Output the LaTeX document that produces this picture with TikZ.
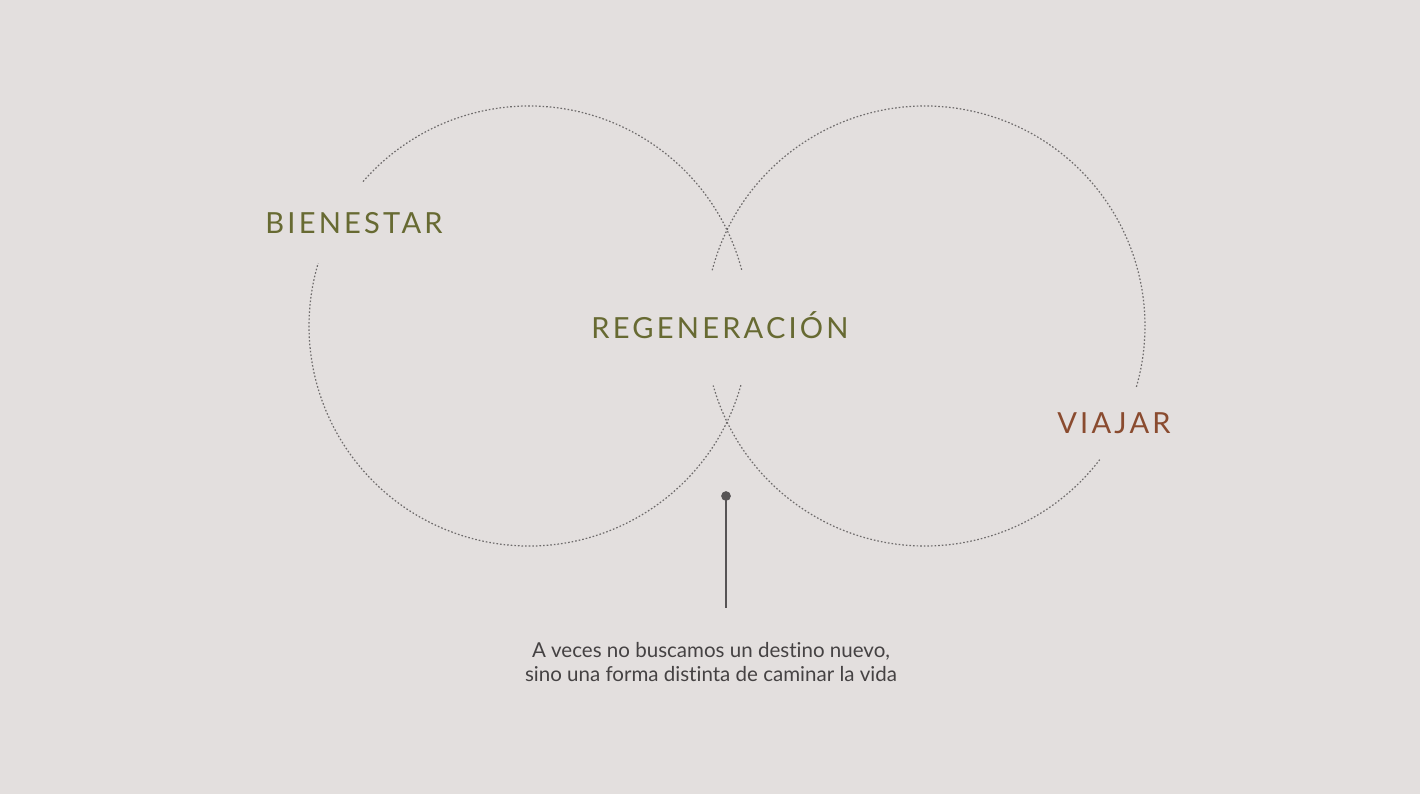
\documentclass[tikz,border=0pt]{standalone}
\usepackage{fontspec}
\setmainfont{Lato}[Ligatures=NoCommon]
\newfontfamily\tagfont[LetterSpace=11]{Lato}
\definecolor{paper}{HTML}{E3DFDE}
\definecolor{olive}{HTML}{676A32}
\definecolor{rust}{HTML}{8A4B2F}
\definecolor{ink}{HTML}{454243}
\definecolor{pinc}{HTML}{575455}
\definecolor{ring}{HTML}{6E6B6B}

\tikzset{every picture/.style={line width=0.75pt}}
\tikzset{
  ringline/.style={draw=ring, line width=0.9, dash pattern={on 1.2pt off 1.5pt}},
  tagtext/.style={anchor=center, inner sep=0pt, font=\tagfont\fontsize{21.8}{26}\selectfont},
}

\begin{document}
\begin{tikzpicture}[x=0.75pt,y=0.75pt,yscale=-1,xscale=1]
	%set diagram: 1420 x 794
	\fill [paper] (0,0) rectangle (1420,794);

	%Shape: Circle, left ring, top part
	\draw [ringline] (529,326) ++(-14.8:220) arc (-14.8:-139.1:220) ;
	%Shape: Circle, left ring, bottom part
	\draw [ringline] (529,326) ++(15.6:220) arc (15.6:196.6:220) ;
	%Shape: Circle, right ring, bottom part
	\draw [ringline] (925,326) ++(37.4:220) arc (37.4:164.3:220) ;
	%Shape: Circle, right ring, top part
	\draw [ringline] (925,326) ++(194.7:220) arc (194.7:376.3:220) ;

	%Shape: Circle [id:pin]
	\draw [pinc, fill=pinc] (726,496) circle (4.3) ;
	\coordinate (pin) at (726,496) ;
	\coordinate (stem) at (726,608) ;
	%Straight Lines
	\draw [pinc, line width=0.9]  (pin) -- (stem) ;

	% Text Node
	\draw (354,223) node [tagtext, text=olive] (bienestar) {BIENESTAR};
	% Text Node
	\draw (720,325) node [tagtext, text=olive] (regeneracion) {REGENERACIÓN};
	% Text Node
	\draw (1114,423) node [tagtext, text=rust] (viajar) {VIAJAR};
	% Text Node
	\draw (711,662) node [anchor=center, inner sep=0pt, text=ink, align=center, font=\fontsize{15.4}{18}\selectfont] (quote) {A veces no buscamos un destino nuevo,\\sino una forma distinta de caminar la vida};

\end{tikzpicture}
\end{document}
